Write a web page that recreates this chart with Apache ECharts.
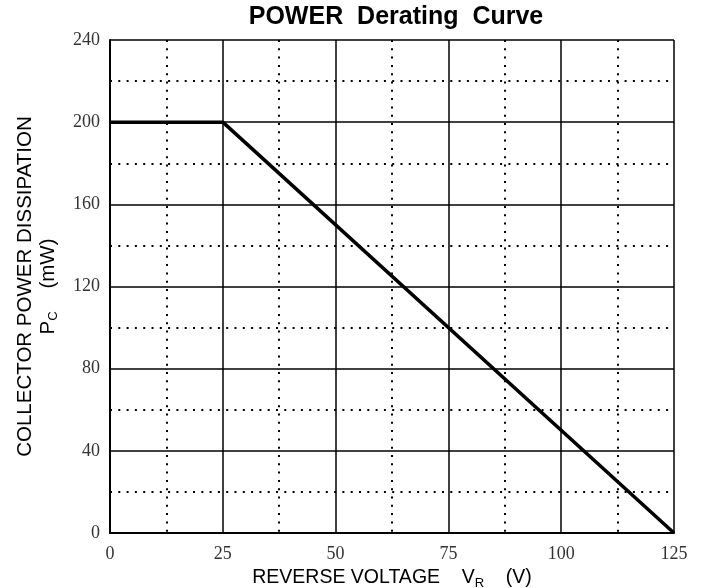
<!DOCTYPE html>
<html><head><meta charset="utf-8">
<script src="https://cdn.jsdelivr.net/npm/echarts@6/dist/echarts.min.js"></script>
<style>html,body{margin:0;padding:0;background:#fff}#c{width:705px;height:588px}</style>
</head><body><div id="c"></div>
<script>
const voltage = [0, 25, 125];
const power = [200, 200, 0];
const xTicks = [0, 25, 50, 75, 100, 125];
const yTicks = [0, 40, 80, 120, 160, 200, 240];

const chart = echarts.init(document.getElementById('c'));
const serif = '"Liberation Serif", "DejaVu Serif", serif';
const sans = '"Liberation Sans", Arial, sans-serif';
chart.setOption({
  animation: false,
  title: {
    text: 'POWER  Derating  Curve', left: 391, top: 0, textAlign: 'center',
    textStyle: { fontFamily: sans, fontWeight: 'bold', fontSize: 25, color: '#000' }
  },
  grid: { left: 110, right: 31, top: 40, bottom: 55, containLabel: false, outerBoundsMode: 'none' },
  xAxis: {
    type: 'value', min: xTicks[0], max: xTicks[xTicks.length - 1], interval: 25,
    name: '{t|REVERSE VOLTAGE    V}{sub|R}{t|    (V)}', nameLocation: 'middle', nameGap: 32,
    nameTextStyle: { rich: {
      t: { fontFamily: sans, fontSize: 19.5, color: '#000' },
      sub: { fontFamily: sans, fontSize: 13, color: '#000', verticalAlign: 'bottom', padding: [12, 0, 0, 0] }
    } },
    axisLine: { show: true, lineStyle: { color: '#000', width: 2 } },
    axisTick: { show: false },
    axisLabel: { fontFamily: serif, fontSize: 18, color: '#333', margin: 12 },
    splitLine: { show: true, lineStyle: { color: '#000', width: 1.5 } },
    minorTick: { show: false, splitNumber: 2 },
    minorSplitLine: { show: true, lineStyle: { color: '#000', width: 2, type: [2, 6.3] } }
  },
  yAxis: {
    type: 'value', min: yTicks[0], max: yTicks[yTicks.length - 1], interval: 40,
    name: '{t|COLLECTOR POWER DISSIPATION}\n{t|P}{sub|C}{t|    (mW)}', nameLocation: 'middle', nameGap: 50, nameRotate: 90,
    nameTextStyle: { lineHeight: 23, rich: {
      t: { fontFamily: sans, fontSize: 20.5, color: '#000', lineHeight: 23 },
      sub: { fontFamily: sans, fontSize: 13, color: '#000', lineHeight: 23, padding: [10, 0, 0, 0] }
    } },
    axisLine: { show: true, lineStyle: { color: '#000', width: 2 } },
    axisTick: { show: false },
    axisLabel: { fontFamily: serif, fontSize: 18, color: '#333', margin: 10 },
    splitLine: { show: true, lineStyle: { color: '#000', width: 1.5 } },
    minorTick: { show: false, splitNumber: 2 },
    minorSplitLine: { show: true, lineStyle: { color: '#000', width: 2, type: [2, 6.3] } }
  },
  series: [{
    type: 'line', data: voltage.map((v, i) => [v, power[i]]),
    symbol: 'none', lineStyle: { color: '#000', width: 3.5 }
  }]
});
</script></body></html>
